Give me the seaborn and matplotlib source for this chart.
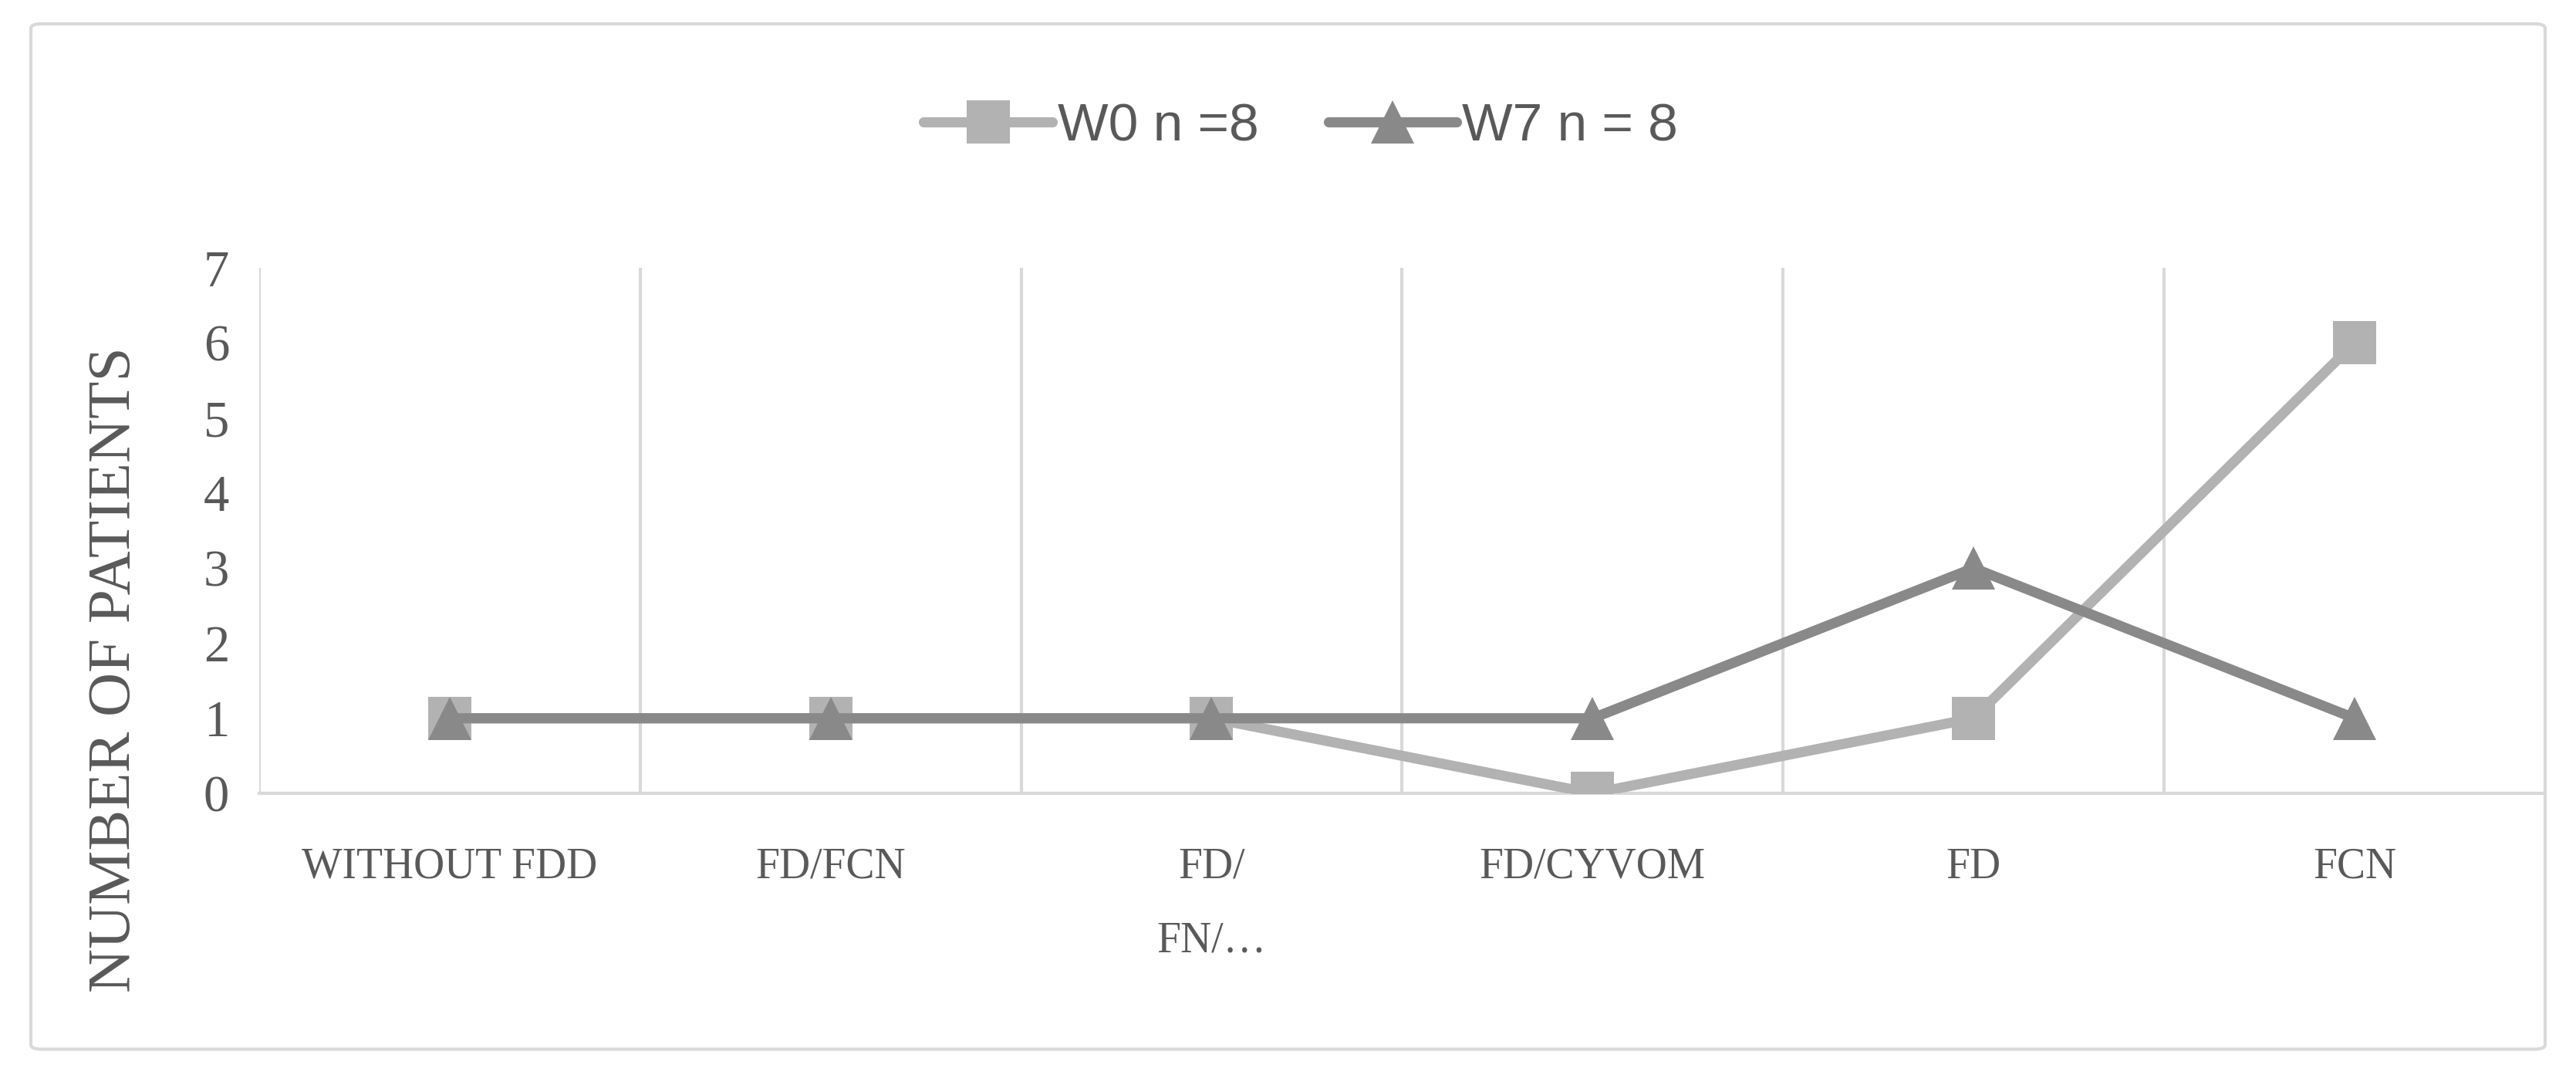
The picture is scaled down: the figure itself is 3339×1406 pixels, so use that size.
import matplotlib as mpl
import numpy as np
import seaborn as sns
import matplotlib.pyplot as plt
import pandas as pd
from matplotlib.patches import FancyBboxPatch

sns.set_style('white')
plt.rcParams['font.family'] = ['Liberation Serif', 'DejaVu Serif']

categories = ['WITHOUT FDD', 'FD/FCN', 'FD/\nFN/…', 'FD/CYVOM', 'FD', 'FCN']
w0 = [1, 1, 1, 0, 1, 6]
w7 = [1, 1, 1, 1, 3, 1]
series_names = ['W0 n =8', 'W7 n = 8']

df = pd.DataFrame({
    'category': categories * 2,
    'patients': w0 + w7,
    'group': [series_names[0]] * len(w0) + [series_names[1]] * len(w7),
})

text_color = '#595959'
grid_color = '#d9d9d9'
palette = {series_names[0]: '#b2b2b2', series_names[1]: '#898989'}
markers = {series_names[0]: 's', series_names[1]: '^'}

fig = plt.figure(figsize=(33.39, 14.06), dpi=100)
ax = fig.add_axes([0.1006, 0.2688, 0.8874, 0.4844])

sns.lineplot(data=df, x='category', y='patients', hue='group', style='group',
             palette=palette, markers=markers, dashes=False, sort=False,
             linewidth=9.5, markersize=40, markeredgewidth=0, ax=ax, zorder=3)

ax.set_xlim(-0.5, len(categories) - 0.5)
ax.set_ylim(0, 7)
ax.set_yticks(range(8))
for xb in np.arange(-0.5, len(categories) - 1, 1.0):
    ax.axvline(xb, color=grid_color, lw=3, zorder=1)
for s in ['top', 'right', 'left']:
    ax.spines[s].set_visible(False)
ax.spines['bottom'].set_color(grid_color)
ax.spines['bottom'].set_linewidth(3)

ax.tick_params(axis='y', length=0, pad=28, labelsize=48, labelcolor=text_color)
ax.tick_params(axis='x', length=0, pad=50, labelsize=40, labelcolor=text_color)
for lbl in ax.get_xticklabels():
    lbl.set_linespacing(2.1)
    lbl.set_verticalalignment('top')

ax.set_xlabel('')
ax.set_ylabel('NUMBER OF PATIENTS', fontsize=57, color=text_color)
ax.yaxis.set_label_coords(-0.063, 0.236)
ax.yaxis.label.set_verticalalignment('center')

leg = ax.legend(loc='center', ncol=2, frameon=False, handlelength=2.4, columnspacing=1.3,
                handletextpad=0.1, markerscale=1.0,
                prop={'family': ['Liberation Sans', 'DejaVu Sans'], 'size': 50})
leg.set_bbox_to_anchor((0.505, 0.883), transform=fig.transFigure)
for t in leg.get_texts():
    t.set_color(text_color)

border = FancyBboxPatch((0.012, 0.033), 0.976, 0.945, boxstyle='round,pad=0,rounding_size=0.004',
                        transform=fig.transFigure, fill=False, edgecolor=grid_color, linewidth=3)
fig.patches.append(border)

plt.savefig('out.png', dpi=100, facecolor='w')
